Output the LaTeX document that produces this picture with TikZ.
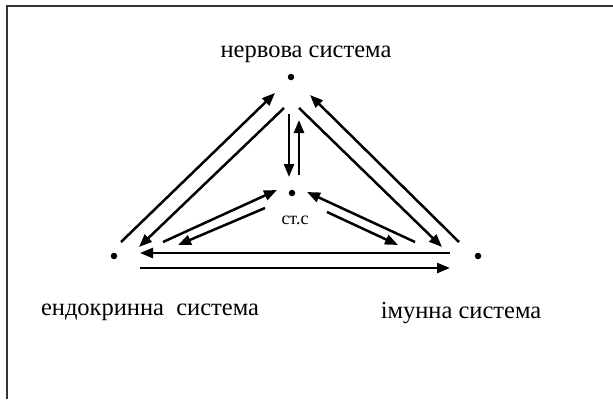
\documentclass[tikz,border=0pt]{standalone}
\usepackage{fontspec}
\setmainfont{Liberation Serif}
\usetikzlibrary{arrows.meta,calc}
\tikzset{
  dot/.style={circle,fill,inner sep=0pt,minimum size=6.5pt},
  link/.style={line width=2.5pt,-{Triangle[length=13pt,width=10pt]}},
  lbl/.style={font=\fontsize{24.5}{28}\selectfont,inner sep=0pt},
  smalllbl/.style={font=\fontsize{18}{22}\selectfont,inner sep=0pt},
}
\begin{document}
\begin{tikzpicture}[x=1pt,y=-1pt]
    \useasboundingbox (0,0) rectangle (613,399);
    \draw[line width=2pt,black!80] (613,6) -- (7,6) -- (7,399);

    \node[dot] (nerv) at (291,77) {};
    \node[dot] (cent) at (292,193) {};
    \node[dot] (endo) at (114,256) {};
    \node[dot] (imun) at (478,256) {};

    \node[lbl] (nervlbl) at (306,54) {нервова система};
    \node[smalllbl] (centlbl) at (295,220) {ст.с};
    \node[lbl] (endolbl) at (150,312) {ендокринна\ \ система};
    \node[lbl] (imunlbl) at (461,313) {імунна система};

    \draw[link] ($(endo)+(7,-14)$) -- ($(nerv)+(-16,16)$);
    \draw[link] ($(nerv)+(-7,31)$) -- ($(endo)+(25,-9)$);
    \draw[link] ($(nerv)+(-2,37)$) -- ($(cent)+(-3,-16)$);
    \draw[link] ($(cent)+(7,-18)$) -- ($(nerv)+(8,43)$);
    \draw[link] ($(nerv)+(8,31)$) -- ($(imun)+(-36,-9)$);
    \draw[link] ($(imun)+(-19,-14)$) -- ($(nerv)+(19,18)$);

    \draw[link] ($(endo)+(49,-14)$) -- ($(cent)+(-15,-3)$);
    \draw[link] ($(cent)+(-27,15)$) -- ($(endo)+(64,-11)$);
    \draw[link] ($(cent)+(35,19)$) -- ($(imun)+(-80,-11)$);
    \draw[link] ($(imun)+(-63,-14)$) -- ($(cent)+(15,-1)$);

    \draw[link] ($(imun)+(-28,-3)$) -- ($(endo)+(26,-3)$);
    \draw[link] ($(endo)+(26,12)$) -- ($(imun)+(-28,12)$);
\end{tikzpicture}
\end{document}
